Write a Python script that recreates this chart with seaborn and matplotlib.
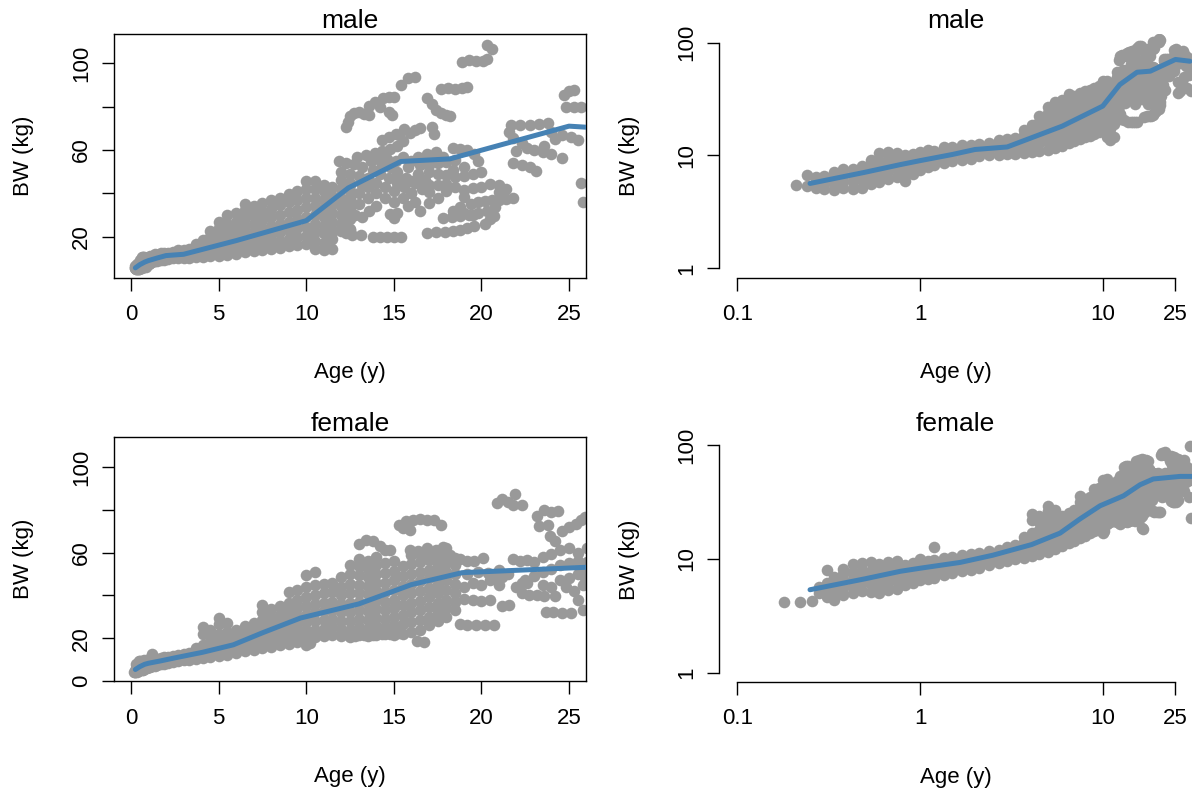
import matplotlib
matplotlib.use("Agg")
import matplotlib.pyplot as plt
import seaborn as sns
import pandas as pd

# ---------------- data: body weight (kg) against age (years) ----------------
# dense young-age band, stored column-wise: one age, several weights
male_band_age = [0.21, 0.24, 0.27, 0.30, 0.34, 0.38, 0.43, 0.48, 0.54, 0.60, 0.67, 0.75,
                 0.83, 0.92, 1.0, 1.1, 1.2, 1.35, 1.5, 1.7, 1.9, 2.1, 2.4, 2.7, 3.0, 3.3,
                 3.7, 4.1, 4.5, 5.0, 5.5, 6.0, 6.5, 7.0, 7.5, 8.0, 8.5, 9.0, 9.5, 10.0,
                 10.5, 11.0, 11.5, 12.0, 12.5]
male_band_bw = [
    [5.5], [5.4, 6.7], [5.2, 5.9, 6.4], [5.0, 5.7, 6.6], [4.9, 5.6, 6.4, 7.2],
    [5.1, 6.0, 6.9, 7.6], [5.0, 5.8, 6.6, 7.6], [5.1, 6.2, 7.0, 8.0],
    [5.6, 6.5, 7.4, 8.4, 9.2], [5.8, 6.9, 7.9, 9.0, 10.6], [6.2, 7.3, 8.3, 9.4, 10.7],
    [6.4, 7.6, 8.7, 9.8, 10.5], [6.0, 7.2, 8.2, 9.3, 10.2], [6.9, 8.0, 9.0, 10.3],
    [7.5, 8.6, 9.6, 10.8], [7.9, 9.0, 10.1, 11.2], [8.2, 9.3, 10.4, 11.0],
    [8.6, 9.6, 10.7, 11.9], [8.9, 10.0, 11.0, 11.8], [9.2, 10.3, 11.4, 12.3],
    [9.4, 10.6, 11.7, 12.5], [9.8, 10.9, 11.9, 12.6], [10.0, 11.1, 12.2, 13.0],
    [10.2, 11.3, 12.5, 13.7], [10.4, 11.6, 12.8, 14.0], [10.3, 11.5, 12.8, 14.2],
    [10.6, 12.0, 13.5, 15.2, 16.8], [10.8, 12.4, 14.2, 16.2, 18.5],
    [11.0, 12.8, 15.0, 17.4, 20.0, 22.5], [11.2, 13.2, 15.6, 18.2, 21.0, 24.0, 27.0],
    [11.6, 13.8, 16.4, 19.2, 22.5, 26.0, 30.0], [12.2, 14.5, 17.2, 20.2, 23.5, 27.0, 31.0],
    [12.8, 15.3, 18.0, 21.2, 24.8, 28.5, 32.5, 35.0], [13.5, 16.0, 19.0, 22.4, 26.0, 30.0, 34.0],
    [14.0, 16.8, 20.0, 23.5, 27.5, 31.5, 35.5], [14.5, 17.5, 21.0, 24.8, 29.0, 33.0, 37.0],
    [15.0, 18.2, 22.0, 26.0, 30.0, 34.5, 38.0], [15.5, 19.0, 23.0, 27.0, 31.5, 36.0, 39.5],
    [16.0, 19.8, 24.0, 28.0, 32.5, 37.0, 41.0],
    [16.5, 20.5, 24.5, 29.0, 33.5, 38.0, 42.0, 45.5],
    [14.5, 18.0, 22.0, 26.0, 30.0, 34.0, 38.0, 42.0, 45.5],
    [13.8, 17.0, 21.5, 25.0, 29.0, 33.0, 37.0, 41.0, 44.0],
    [14.5, 19.0, 23.0, 27.0, 31.0, 35.0, 39.0, 43.0],
    [22.5, 26.0, 30.0, 34.0, 38.0, 42.0, 46.0],
    [23.0, 28.0, 33.0, 37.0, 41.0, 45.0, 49.0],
]

# older boys and men: scattered (age, weight) readings
male_older = [
    (12.3, 21.5), (12.5, 23.5), (12.2, 24.0), (12.6, 21.0), (11.0, 21.5), (11.5, 22.0),
    (12.8, 30.0), (13.0, 35.0), (13.0, 40.0), (13.2, 44.0), (13.0, 48.0), (13.5, 38.0),
    (13.5, 43.0), (13.5, 47.0), (13.8, 51.0), (14.0, 34.0), (14.0, 40.0), (14.0, 45.0),
    (14.2, 49.0), (14.3, 53.0), (14.5, 38.0), (14.5, 43.0), (14.7, 47.0), (14.8, 52.0),
    (15.0, 36.0), (15.0, 41.0), (15.2, 45.0), (15.2, 50.0), (15.5, 38.0), (15.6, 43.0),
    (15.7, 47.0), (15.8, 52.0), (16.0, 40.0), (16.2, 45.0), (16.4, 49.0), (16.6, 42.0),
    (16.8, 46.0), (17.0, 50.0), (13.6, 32.0), (14.8, 30.5), (15.0, 28.5), (15.2, 31.0),
    (12.0, 50.0), (12.5, 38.0), (12.5, 44.0), (13.2, 52.0), (13.7, 55.0), (14.1, 56.0),
    (14.6, 56.0), (15.1, 55.0), (15.5, 57.0), (16.0, 55.0), (16.4, 57.0), (16.9, 58.0),
    (17.4, 59.0), (17.8, 57.0), (16.5, 53.0), (17.0, 53.0), (17.5, 49.0), (18.0, 48.5),
    (18.5, 47.5), (19.0, 48.0), (19.5, 49.0), (20.0, 50.0), (12.0, 35.0), (12.2, 32.0),
    (13.2, 29.0), (16.2, 36.0), (17.0, 35.5), (17.5, 38.0), (16.5, 32.0), (15.8, 34.0),
    (13.1, 20.8), (13.8, 20.0), (14.2, 20.0), (14.6, 20.0), (15.0, 20.0), (15.4, 20.0),
    (11.9, 55.0), (12.3, 54.0), (12.7, 53.5), (12.9, 57.0), (13.4, 57.5), (13.9, 58.5),
    (14.3, 59.5), (14.8, 60.5), (15.2, 62.0), (15.5, 64.0), (14.3, 64.5), (14.7, 66.0),
    (15.1, 67.5),
    (12.3, 70.5), (12.4, 73.0), (12.5, 75.5), (12.7, 77.0), (13.0, 77.5), (13.3, 76.5),
    (13.6, 76.0), (13.6, 80.5), (13.9, 82.0), (14.2, 80.0), (14.4, 84.0), (14.7, 84.5),
    (15.0, 84.5), (14.7, 77.5), (14.9, 76.0), (15.4, 90.0), (15.8, 93.0), (16.2, 93.5),
    (15.3, 67.0), (15.6, 69.5), (15.9, 68.0), (16.2, 69.0), (16.5, 70.0),
    (16.9, 84.0), (17.2, 81.0), (17.4, 78.5), (17.7, 77.0), (18.0, 76.0), (18.2, 75.5),
    (17.2, 70.5), (17.3, 67.5),
    (17.7, 88.0), (18.1, 88.5), (18.5, 88.0), (18.9, 88.5), (19.2, 89.0),
    (18.9, 100.5), (19.3, 101.5), (19.7, 101.0), (20.1, 101.0), (20.3, 102.0),
    (20.3, 108.5), (20.6, 106.5),
    (24.7, 85.5), (25.0, 87.0), (25.3, 87.7), (24.8, 80.0), (25.3, 80.0), (25.7, 80.0),
    (25.7, 45.0), (25.8, 36.0),
    (16.8, 55.0), (17.2, 56.0), (17.5, 54.0), (18.0, 54.5), (18.5, 55.5),
    (18.4, 61.0), (18.8, 60.5), (19.2, 60.0), (19.6, 58.0), (19.8, 55.0), (18.4, 51.0),
    (19.0, 52.0),
    (15.3, 46.0), (16.0, 45.5), (16.5, 47.0), (17.0, 44.0), (17.5, 44.0), (18.0, 44.5),
    (18.5, 43.0), (19.0, 41.5), (19.5, 42.5), (20.0, 43.0), (20.5, 44.5), (21.0, 44.0),
    (21.4, 42.0), (21.0, 40.5), (16.0, 40.0), (17.0, 40.5), (18.0, 41.0), (19.0, 38.5),
    (18.4, 32.0), (18.8, 33.5), (19.4, 35.0), (19.8, 36.0), (20.2, 36.5), (20.6, 37.0),
    (21.0, 37.0), (21.4, 37.5), (21.8, 38.0), (19.0, 31.0), (19.5, 30.0),
    (16.9, 21.8), (17.4, 22.3), (17.9, 22.3), (18.4, 22.5), (18.8, 23.0), (19.2, 24.0),
    (19.6, 25.0), (20.2, 26.0), (20.5, 28.0), (20.7, 29.5),
    (17.8, 28.5), (18.3, 29.0), (18.8, 29.5), (19.3, 30.0), (19.8, 31.0), (20.3, 32.0),
    (20.8, 33.5),
    (21.7, 71.5), (22.2, 71.5), (22.8, 71.5), (23.3, 72.0), (23.8, 72.5), (21.8, 65.5),
    (22.3, 63.0), (22.6, 61.0), (23.0, 60.0), (23.5, 59.0), (24.0, 58.0), (24.6, 56.5),
    (21.8, 54.0), (22.3, 53.0), (22.8, 52.0), (23.1, 50.5), (21.6, 68.5), (22.0, 59.5),
    (23.6, 62.0), (24.2, 65.0), (24.6, 67.0), (25.1, 66.0), (25.5, 64.5), (24.0, 68.5),
    (26.5, 70.0), (27.0, 66.0), (27.5, 84.0), (28.0, 80.0), (28.5, 62.0), (29.0, 75.0),
    (29.5, 52.0), (30.0, 57.0), (27.0, 45.0), (28.0, 50.0), (29.0, 40.0), (30.5, 37.0),
    (26.5, 37.0), (28.0, 68.0), (30.0, 68.0), (27.5, 72.0),
]

female_band_age = [0.18, 0.22, 0.255, 0.28, 0.31, 0.34, 0.38, 0.43, 0.48, 0.54, 0.60,
                   0.67, 0.75, 0.83, 0.92, 1.0, 1.1, 1.2, 1.35, 1.5, 1.7, 1.9, 2.1, 2.4,
                   2.7, 3.0, 3.3, 3.7, 4.1, 4.5, 5.0, 5.5, 6.0, 6.5, 7.0, 7.5, 8.0, 8.5,
                   9.0, 9.5, 10.0, 10.5, 11.0, 11.5, 12.0, 12.5, 13.0, 13.5, 14.0, 14.5,
                   15.0, 15.5, 16.0, 16.5, 17.0, 17.5, 18.0, 18.5]
female_band_bw = [
    [4.2], [4.2], [4.3], [5.0, 5.7], [4.6, 5.4, 6.2, 8.0], [4.4, 5.2, 6.0, 6.9],
    [4.8, 5.6, 6.4, 7.4, 8.2], [5.0, 5.8, 6.7, 7.7, 9.0], [5.2, 6.1, 7.0, 8.0, 9.3],
    [5.1, 6.0, 6.9, 7.9, 9.4], [5.0, 5.9, 6.8, 7.8, 9.0], [5.3, 6.2, 7.2, 8.3, 9.5],
    [5.5, 6.5, 7.5, 8.6, 9.6], [5.9, 6.8, 7.8, 8.8], [6.2, 7.1, 8.1, 9.2],
    [6.5, 7.4, 8.4, 9.4, 10.1], [6.7, 7.7, 8.7, 9.7], [6.8, 7.9, 9.0, 9.9, 12.8],
    [7.2, 8.2, 9.3, 10.3], [7.5, 8.5, 9.6, 10.5], [7.8, 8.8, 9.8, 10.8],
    [8.0, 9.0, 10.1, 11.0], [8.4, 9.4, 10.4, 11.3], [8.8, 9.8, 10.8, 11.7],
    [9.2, 10.2, 11.2, 12.1], [9.6, 10.6, 11.7, 12.7], [10.0, 11.1, 12.2, 13.3],
    [10.3, 11.5, 12.8, 14.0, 15.5], [10.6, 12.0, 13.4, 15.0, 17.0, 22.0, 25.0],
    [11.0, 12.4, 14.0, 15.8, 18.0, 21.0, 24.0],
    [11.5, 13.0, 14.8, 16.8, 19.0, 22.0, 26.5, 29.5],
    [12.2, 13.8, 15.6, 17.8, 20.0, 23.0, 27.0], [13.0, 14.6, 16.5, 18.8, 21.2, 24.0],
    [13.8, 15.5, 17.5, 19.8, 22.5, 25.5], [14.5, 16.3, 18.5, 21.0, 23.8, 27.0],
    [15.2, 17.2, 19.5, 22.2, 25.0, 28.5, 32.0, 35.5],
    [16.0, 18.0, 20.5, 23.3, 26.3, 29.8, 33.5], [16.8, 19.0, 21.5, 24.5, 27.8, 31.0, 35.0],
    [17.5, 19.8, 22.5, 25.5, 29.0, 32.5, 36.5, 41.5],
    [18.0, 20.5, 23.5, 26.8, 30.5, 34.0, 38.0, 42.5],
    [17.0, 20.5, 24.0, 27.5, 31.0, 35.0, 39.0, 44.0, 49.5],
    [20.5, 24.0, 28.0, 32.0, 36.0, 40.0, 45.0, 51.0],
    [21.0, 24.5, 28.5, 32.5, 36.5, 41.0, 45.5],
    [21.5, 25.0, 29.0, 33.0, 37.0, 41.5, 46.0],
    [21.0, 24.5, 28.0, 32.0, 36.0, 40.0, 44.0, 48.5],
    [20.5, 24.0, 28.0, 32.0, 36.5, 41.0, 45.5, 50.0, 54.0],
    [21.5, 25.0, 29.0, 33.0, 37.0, 41.0, 45.0, 49.5, 53.5, 57.0],
    [21.0, 24.5, 28.5, 32.5, 36.5, 40.5, 44.5, 48.5, 52.5, 56.0],
    [21.5, 25.5, 29.5, 33.5, 38.0, 42.0, 46.0, 50.0, 54.0, 58.0],
    [22.0, 25.0, 29.0, 33.0, 37.0, 41.5, 46.0, 50.5, 55.0],
    [21.5, 26.0, 30.0, 34.0, 38.0, 42.5, 47.0, 51.5, 56.0],
    [22.0, 26.5, 31.0, 35.5, 40.0, 44.5, 49.0, 53.5],
    [23.0, 27.5, 32.0, 36.5, 41.0, 45.5, 50.0, 54.5, 59.0],
    [24.0, 28.5, 33.0, 37.5, 42.0, 46.5, 51.0, 55.5, 59.5],
    [26.0, 30.0, 34.5, 39.0, 43.5, 48.0, 52.0, 56.5, 59.5],
    [28.0, 32.0, 36.5, 41.0, 45.5, 50.0, 54.0, 58.5],
    [30.0, 34.0, 38.0, 42.5, 47.0, 51.0, 55.0, 59.0, 62.0],
    [33.0, 37.0, 41.0, 45.5, 50.0, 54.0, 57.5],
]

female_older = [
    (13.0, 64.0), (13.4, 66.0), (13.8, 65.5), (14.2, 63.0), (14.5, 61.0), (14.8, 61.0),
    (10.2, 17.8), (12.8, 21.0), (13.3, 21.5), (13.8, 21.5), (14.3, 22.0), (14.8, 22.0),
    (15.3, 22.5),
    (15.3, 73.0), (15.7, 74.5), (16.1, 75.0), (16.5, 75.5), (16.9, 75.0), (17.3, 75.0),
    (17.7, 73.0), (15.5, 71.5), (15.9, 70.5),
    (20.9, 83.0), (21.2, 85.0), (21.5, 83.5), (21.8, 82.0), (21.9, 87.5), (22.3, 82.0),
    (15.9, 61.0), (16.4, 60.5), (16.9, 62.0), (17.4, 61.0), (17.8, 62.5), (18.2, 59.0),
    (18.8, 57.0), (19.2, 56.0), (19.6, 56.0), (20.1, 57.5),
    (18.8, 26.5), (19.2, 26.0), (19.7, 26.0), (20.2, 26.0), (20.7, 26.0),
    (16.3, 18.6), (16.7, 18.3),
    (20.7, 48.6), (21.2, 48.6), (21.8, 57.0), (22.2, 56.0), (22.6, 56.5), (23.0, 55.5),
    (22.3, 45.6), (22.6, 45.6), (22.3, 41.0), (22.7, 40.0), (23.2, 40.0), (23.6, 39.5),
    (24.2, 39.5), (23.7, 32.3), (24.1, 32.0), (24.6, 31.8), (25.1, 31.6),
    (23.2, 77.0), (23.6, 80.0), (24.0, 79.0), (24.4, 79.5), (23.3, 72.5), (23.8, 73.0),
    (23.9, 67.5), (24.2, 65.5), (24.6, 70.0), (25.0, 72.0), (25.4, 73.5), (25.7, 75.0),
    (25.9, 76.5), (25.8, 33.0),
    (19.0, 38.5), (19.5, 38.0), (20.0, 37.5), (20.5, 38.0), (19.0, 44.0), (19.5, 46.0),
    (20.0, 45.0), (20.5, 47.0), (21.0, 45.0), (19.2, 50.0), (19.8, 51.0), (20.4, 50.5),
    (21.0, 52.0), (21.5, 50.0), (21.2, 35.0), (21.6, 35.5), (22.0, 44.0), (22.5, 47.0),
    (23.0, 49.0), (23.5, 51.0), (24.0, 52.5), (24.5, 54.0), (25.0, 55.0), (25.5, 56.0),
    (26.0, 55.5), (23.5, 45.0), (24.0, 44.0), (24.5, 47.0), (25.0, 48.0), (25.5, 50.0),
    (24.5, 61.0), (25.0, 62.0), (25.5, 60.0), (26.0, 62.0), (23.5, 58.0), (24.0, 59.5),
    (24.8, 44.0), (25.3, 42.0), (25.8, 45.0), (25.5, 38.0), (25.9, 48.0), (25.9, 52.0),
    (26.5, 57.0), (27.0, 60.0), (27.5, 52.0), (28.0, 55.0), (28.5, 48.0), (29.0, 65.0),
    (29.5, 58.0), (30.0, 98.0), (27.0, 45.0), (28.0, 40.0), (29.5, 35.0), (30.5, 23.0),
    (27.0, 70.0), (28.0, 75.0), (26.5, 42.0), (30.0, 50.0),
]

# fitted growth curves
male_curve_age = [0.25, 0.5, 0.78, 1.0, 1.5, 2.0, 3.0, 6.0, 10.0, 12.4, 15.4, 18.2, 25.0, 30.0]
male_curve_bw = [5.65, 7.1, 8.3, 9.0, 10.2, 11.3, 11.9, 18.2, 27.4, 42.5, 54.7, 55.9, 71.0, 68.5]
female_curve_age = [0.25, 0.5, 0.78, 1.0, 1.66, 2.5, 4.08, 5.84, 7.5, 9.67, 13.0, 16.0,
                    18.9, 26.5, 31.0]
female_curve_bw = [5.37, 6.7, 7.8, 8.3, 9.34, 10.8, 13.4, 16.9, 22.5, 29.4, 36.0, 45.0,
                   50.6, 53.3, 53.3]


def points_frame(band_age, band_bw, older):
    ages, bws = [], []
    for a, vals in zip(band_age, band_bw):
        ages += [a] * len(vals)
        bws += list(vals)
    ages += [p[0] for p in older]
    bws += [p[1] for p in older]
    return pd.DataFrame({"age": ages, "bw": bws})


male_df = points_frame(male_band_age, male_band_bw, male_older)
female_df = points_frame(female_band_age, female_band_bw, female_older)
male_curve = pd.DataFrame({"age": male_curve_age, "bw": male_curve_bw})
female_curve = pd.DataFrame({"age": female_curve_age, "bw": female_curve_bw})

# ---------------- figure ----------------
sns.set_theme(style="white")
plt.rcParams["font.family"] = ["Liberation Sans", "DejaVu Sans"]
plt.rcParams["text.color"] = "black"
plt.rcParams["axes.labelcolor"] = "black"
plt.rcParams["xtick.color"] = "black"
plt.rcParams["ytick.color"] = "black"

W, H = 1192, 791
fig = plt.figure(figsize=(W / 100, H / 100), dpi=100)
fig.patch.set_facecolor("white")

POINT = "#999999"
CURVE = "#4682B4"
TICK_FS = 16
TITLE_FS = 19


def px_axes(left, top, right, bottom):
    return fig.add_axes([left / W, 1 - bottom / H, (right - left) / W, (bottom - top) / H])


def draw(ax, pts, curve, title, log):
    if log:
        ax.set_xscale("log")
        ax.set_yscale("log")
    sns.scatterplot(data=pts, x="age", y="bw", ax=ax, color=POINT, s=70,
                    linewidth=0, legend=False, zorder=2)
    sns.lineplot(data=curve, x="age", y="bw", ax=ax, color=CURVE, linewidth=3.6,
                 estimator=None, sort=False, zorder=3)
    ax.set_title(title, fontsize=TITLE_FS, pad=4, color="black")
    ax.set_xlabel("Age (y)", fontsize=TICK_FS, color="black")
    ax.set_ylabel("BW (kg)", fontsize=TICK_FS, color="black")
    ax.tick_params(axis="both", which="major", direction="out", length=9, width=1.0,
                   color="black", labelsize=TICK_FS, labelcolor="black",
                   bottom=True, left=True, top=False, right=False)
    ax.tick_params(axis="x", pad=10)
    ax.tick_params(axis="y", pad=7, labelrotation=90)
    ax.tick_params(which="minor", length=0)
    ax.grid(False)
    ax.set_facecolor("white")
    for s in ax.spines.values():
        s.set_color("black")
        s.set_linewidth(1.0)


def finish_labels(ax, width_px, height_px):
    for lab in ax.get_yticklabels():
        lab.set_va("center")
    ax.xaxis.set_label_coords(0.5, -95 / height_px)
    ax.xaxis.label.set_va("center")
    ax.yaxis.set_label_coords(-90 / width_px, 0.5)
    ax.yaxis.label.set_va("center")


rows = [
    ("male", male_df, male_curve, 34.0, 277.7, (1.1, 113.5), [20, 40, 60, 80, 100],
     ["20", "", "60", "", "100"], 277.7, (0.825, 119.4)),
    ("female", female_df, female_curve, 436.7, 681.3, (-0.14, 114.1), [0, 20, 40, 60, 80, 100],
     ["0", "20", "", "60", "", "100"], 682.0, (0.829, 119.1)),
]

for title, pts, curve, top, bottom, ylim, yt, ytl, log_bottom, log_ylim in rows:
    # linear panel with a full box
    ax = px_axes(114, top, 586, bottom)
    draw(ax, pts, curve, title, log=False)
    ax.set_xlim(-0.97, 25.97)
    ax.set_ylim(*ylim)
    ax.set_xticks([0, 5, 10, 15, 20, 25])
    ax.set_xticklabels(["0", "5", "10", "15", "20", "25"])
    ax.set_yticks(yt)
    ax.set_yticklabels(ytl)
    finish_labels(ax, 472, bottom - top)

    # log-log panel with open axes
    ax = px_axes(719.3, top, 1192, log_bottom)
    draw(ax, pts, curve, title, log=True)
    ax.set_xlim(0.0797, 30.8)
    ax.set_ylim(*log_ylim)
    ax.set_xticks([0.1, 1, 10, 25])
    ax.set_xticklabels(["0.1", "1", "10", "25"])
    ax.set_yticks([1, 10, 100])
    ax.set_yticklabels(["1", "10", "100"])
    ax.minorticks_off()
    ax.spines["top"].set_visible(False)
    ax.spines["right"].set_visible(False)
    ax.spines["left"].set_bounds(1, 100)
    ax.spines["bottom"].set_bounds(0.1, 25)
    finish_labels(ax, 1192 - 719.3, log_bottom - top)

fig.savefig("out.png", dpi=100, facecolor="white")
